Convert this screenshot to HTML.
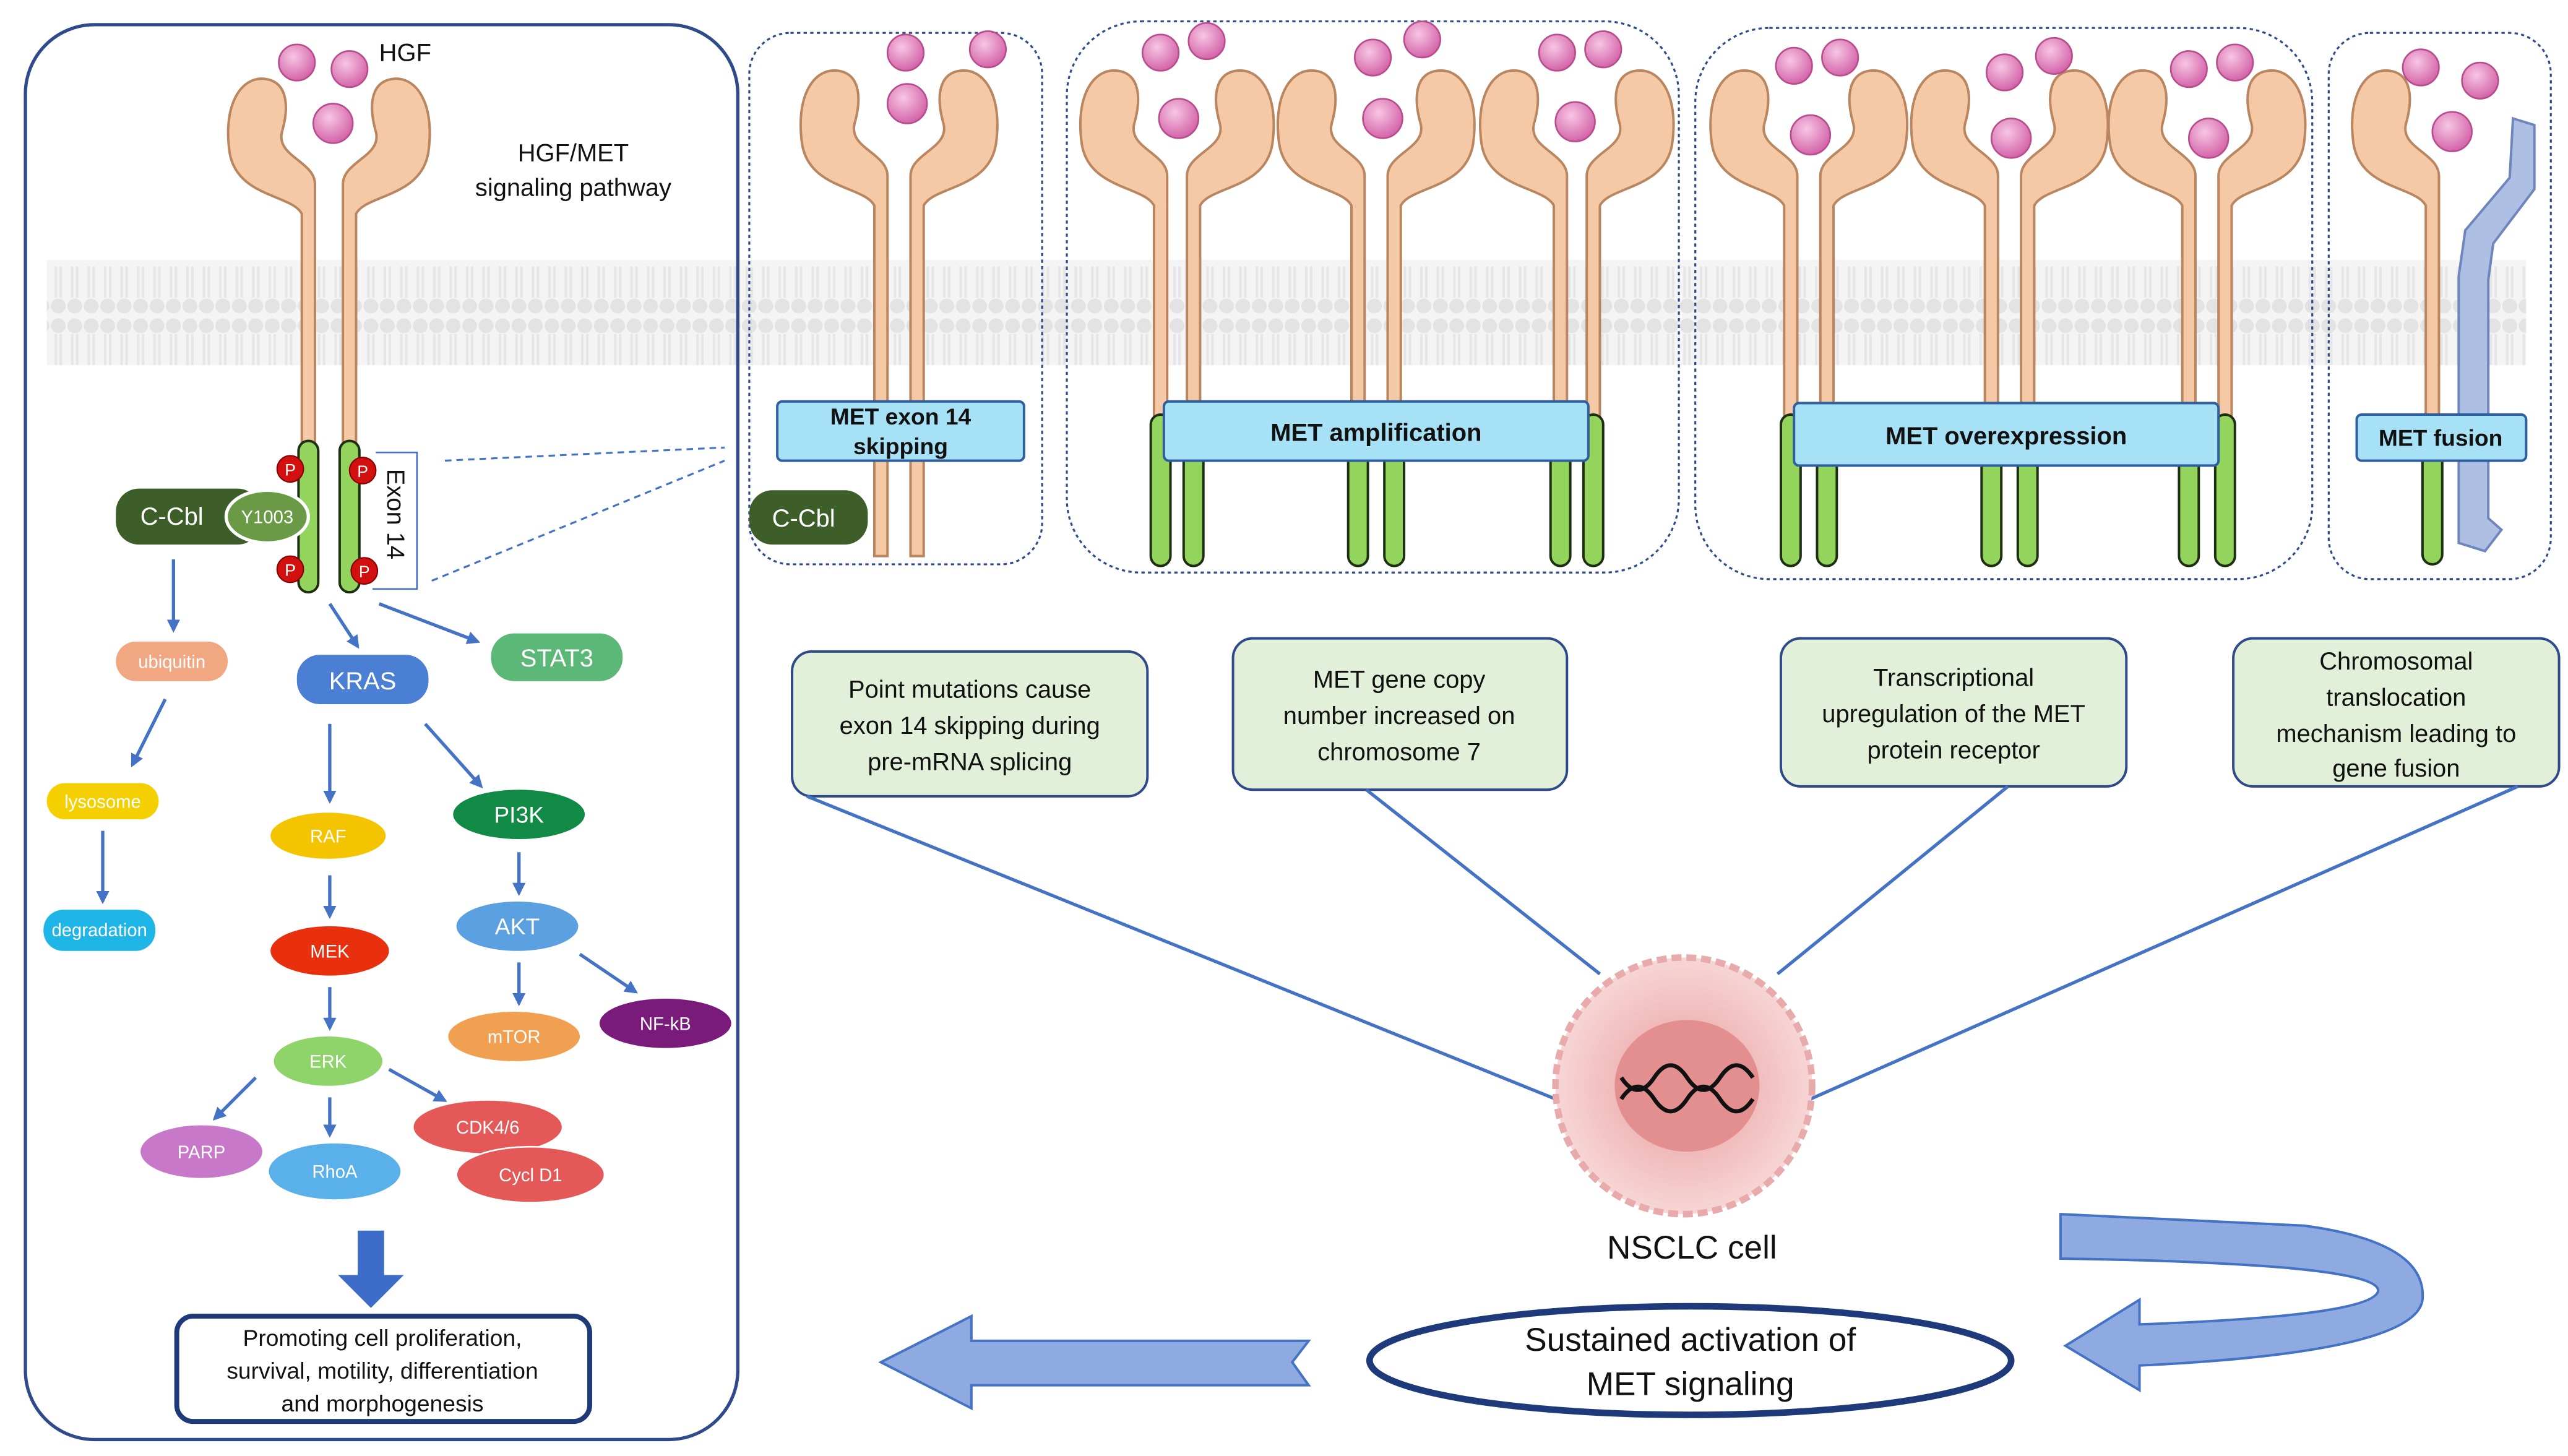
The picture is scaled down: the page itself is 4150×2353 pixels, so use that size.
<!DOCTYPE html>
<html><head><meta charset="utf-8"><style>html,body{margin:0;padding:0;background:#fff}svg{display:block}</style></head>
<body>
<svg width="4150" height="2353" viewBox="0 0 1560 885" xmlns="http://www.w3.org/2000/svg" font-family="Liberation Sans, sans-serif">
<defs>
<marker id="ah" viewBox="0 0 10 10" refX="8" refY="5" markerWidth="4" markerHeight="4" orient="auto"><path d="M0,0L10,5L0,10z" fill="#4472c4"/></marker>
<radialGradient id="pk" cx="40%" cy="35%" r="65%"><stop offset="0" stop-color="#f7c6e4"/><stop offset="1" stop-color="#d465aa"/></radialGradient>
<radialGradient id="cell" cx="50%" cy="50%" r="55%"><stop offset="0" stop-color="#e89a9a"/><stop offset="0.45" stop-color="#f0b8b8"/><stop offset="1" stop-color="#f8dcdc"/></radialGradient>
<pattern id="mem" width="10" height="64" patternUnits="userSpaceOnUse"><rect width="10" height="64" fill="#f4f4f4"/><circle cx="5" cy="6" r="4.5" fill="#e3e3e3"/><circle cx="5" cy="58" r="4.5" fill="#e3e3e3"/><line x1="3.5" y1="11" x2="3.5" y2="30" stroke="#e6e6e6" stroke-width="1.5"/><line x1="6.5" y1="11" x2="6.5" y2="30" stroke="#e6e6e6" stroke-width="1.5"/><line x1="3.5" y1="34" x2="3.5" y2="53" stroke="#e6e6e6" stroke-width="1.5"/><line x1="6.5" y1="34" x2="6.5" y2="53" stroke="#e6e6e6" stroke-width="1.5"/></pattern>
<g id="mono"><path d="M-4,343 L-4,130 C-10,118 -44,120 -48,92 C-52,62 -40,46 -26,48 C-12,50 -12,66 -16,80 C-20,95 4,98 4,112 L4,343 Z" fill="#f6c9a6" stroke="#b98660" stroke-width="1.5"/></g>
<g id="grn"><rect x="-6" y="0" width="12" height="92" rx="6" fill="#92d45c" stroke="#1e2e12" stroke-width="1.5"/></g>
</defs>
<rect width="1560" height="885" fill="#fff"/>
<rect x="28" y="158" width="1507" height="64" fill="url(#mem)"/>
<rect x="15" y="15" width="433" height="860" rx="42" fill="none" stroke="#2f4a8a" stroke-width="2"/>
<g fill="none" stroke="#2f4a8a" stroke-width="1.2" stroke-dasharray="2,2">
<rect x="455" y="20" width="178" height="323" rx="25"/>
<rect x="648" y="13" width="372" height="335" rx="45"/>
<rect x="1030" y="17" width="375" height="335" rx="45"/>
<rect x="1415" y="20" width="135" height="332" rx="25"/>
</g>
<g>
<use href="#mono" transform="translate(187,0)"/>
<use href="#mono" transform="translate(212,0) scale(-1,1)"/>
<use href="#grn" transform="translate(187,268)"/><use href="#grn" transform="translate(212,268)"/>
</g>
<g>
<use href="#mono" transform="translate(535,-5) scale(1,1)"/><use href="#mono" transform="translate(557,-5) scale(-1,1)"/>
<use href="#mono" transform="translate(705,-5)"/><use href="#mono" transform="translate(725,-5) scale(-1,1)"/>
<use href="#mono" transform="translate(825,-5)"/><use href="#mono" transform="translate(847,-5) scale(-1,1)"/>
<use href="#mono" transform="translate(948,-5)"/><use href="#mono" transform="translate(968,-5) scale(-1,1)"/>
<use href="#mono" transform="translate(1088,-5)"/><use href="#mono" transform="translate(1110,-5) scale(-1,1)"/>
<use href="#mono" transform="translate(1210,-5)"/><use href="#mono" transform="translate(1232,-5) scale(-1,1)"/>
<use href="#mono" transform="translate(1330,-5)"/><use href="#mono" transform="translate(1352,-5) scale(-1,1)"/>
<use href="#mono" transform="translate(1478,-5)"/>
<use href="#grn" transform="translate(705,252)"/><use href="#grn" transform="translate(725,252)"/>
<use href="#grn" transform="translate(825,252)"/><use href="#grn" transform="translate(847,252)"/>
<use href="#grn" transform="translate(948,252)"/><use href="#grn" transform="translate(968,252)"/>
<use href="#grn" transform="translate(1088,252)"/><use href="#grn" transform="translate(1110,252)"/>
<use href="#grn" transform="translate(1210,252)"/><use href="#grn" transform="translate(1232,252)"/>
<use href="#grn" transform="translate(1330,252)"/><use href="#grn" transform="translate(1352,252)"/>
<rect x="1472" y="275" width="12" height="68" rx="6" fill="#92d45c" stroke="#1e2e12" stroke-width="1.5"/>
<path d="M1527,72 L1540,76 L1540,115 L1515,148 L1512,170 L1512,315 L1520,322 L1510,335 L1494,330 L1494,168 L1498,140 L1525,108 Z" fill="#aebfe4" stroke="#6f86bd" stroke-width="1.5"/>
</g>
<g fill="url(#pk)" stroke="#b84c8c" stroke-width="1">
<circle cx="180" cy="38" r="11"/><circle cx="212" cy="42" r="11"/><circle cx="202" cy="75" r="12"/>
<circle cx="550" cy="32" r="11"/><circle cx="600" cy="30" r="11"/><circle cx="551" cy="63" r="12"/>
<circle cx="705" cy="32" r="11"/><circle cx="733" cy="25" r="11"/><circle cx="716" cy="72" r="12"/>
<circle cx="834" cy="35" r="11"/><circle cx="864" cy="24" r="11"/><circle cx="840" cy="72" r="12"/>
<circle cx="946" cy="32" r="11"/><circle cx="974" cy="30" r="11"/><circle cx="957" cy="74" r="12"/>
<circle cx="1090" cy="40" r="11"/><circle cx="1118" cy="35" r="11"/><circle cx="1100" cy="82" r="12"/>
<circle cx="1218" cy="44" r="11"/><circle cx="1248" cy="34" r="11"/><circle cx="1222" cy="84" r="12"/>
<circle cx="1330" cy="42" r="11"/><circle cx="1358" cy="38" r="11"/><circle cx="1342" cy="84" r="12"/>
<circle cx="1471" cy="41" r="11"/><circle cx="1507" cy="49" r="11"/><circle cx="1490" cy="80" r="12"/>
</g>
<text x="230" y="37" font-size="15" fill="#111">HGF</text>
<text x="348" y="98" font-size="15" text-anchor="middle" fill="#111">HGF/MET</text>
<text x="348" y="119" font-size="15" text-anchor="middle" fill="#111">signaling pathway</text>
<rect x="70" y="297" width="88" height="34" rx="14" fill="#3d5e29"/>
<text x="104" y="319" font-size="15" fill="#fff" text-anchor="middle">C-Cbl</text>
<ellipse cx="162" cy="314" rx="25" ry="16" fill="#6b9a47" stroke="#fff" stroke-width="2"/>
<text x="162" y="318" font-size="11" fill="#fff" text-anchor="middle">Y1003</text>
<g fill="#d21010" stroke="#8a0000" stroke-width="0.8"><circle cx="176" cy="285" r="8"/><circle cx="220" cy="286" r="8"/><circle cx="176" cy="346" r="8"/><circle cx="221" cy="347" r="8"/></g>
<g font-size="10" fill="#fff" text-anchor="middle"><text x="176" y="289">P</text><text x="220" y="290">P</text><text x="176" y="350">P</text><text x="221" y="351">P</text></g>
<path d="M228,275 L253,275 L253,358 L226,358" fill="none" stroke="#4472c4" stroke-width="1"/>
<text transform="translate(235,285) rotate(90)" font-size="15" fill="#111">Exon 14</text>
<g stroke="#4472c4" stroke-width="1.2" stroke-dasharray="4,3"><line x1="270" y1="280" x2="440" y2="272"/><line x1="262" y1="353" x2="440" y2="280"/></g>
<g stroke="#4472c4" stroke-width="2" marker-end="url(#ah)">
<line x1="105" y1="340" x2="105" y2="383"/><line x1="100" y1="425" x2="80" y2="465"/><line x1="62" y1="505" x2="62" y2="548"/>
<line x1="200" y1="367" x2="217" y2="393"/><line x1="230" y1="367" x2="290" y2="390"/>
<line x1="200" y1="440" x2="200" y2="487"/><line x1="258" y1="440" x2="292" y2="478"/>
<line x1="200" y1="532" x2="200" y2="557"/><line x1="315" y1="518" x2="315" y2="543"/>
<line x1="200" y1="600" x2="200" y2="625"/><line x1="315" y1="585" x2="315" y2="610"/>
<line x1="352" y1="580" x2="386" y2="603"/><line x1="155" y1="655" x2="130" y2="680"/>
<line x1="200" y1="667" x2="200" y2="690"/><line x1="236" y1="650" x2="270" y2="669"/>
</g>
<g font-size="11" fill="#fff" text-anchor="middle">
<rect x="70" y="390" width="68" height="24" rx="12" fill="#f2a783"/><text x="104" y="406">ubiquitin</text>
<rect x="180" y="398" width="80" height="30" rx="14" fill="#4a7fd4"/><text x="220" y="419" font-size="15">KRAS</text>
<rect x="298" y="385" width="80" height="29" rx="14" fill="#5cb877"/><text x="338" y="405" font-size="15">STAT3</text>
<rect x="28" y="476" width="68" height="22" rx="11" fill="#f5d000"/><text x="62" y="491">lysosome</text>
<rect x="26" y="553" width="68" height="25" rx="12" fill="#1fb5e6"/><text x="60" y="569">degradation</text>
<ellipse cx="199" cy="508" rx="35" ry="14" fill="#f5c400"/><text x="199" y="512">RAF</text>
<ellipse cx="315" cy="495" rx="40" ry="15" fill="#118a45"/><text x="315" y="500" font-size="14">PI3K</text>
<ellipse cx="200" cy="578" rx="36" ry="15" fill="#e8300e"/><text x="200" y="582">MEK</text>
<ellipse cx="314" cy="563" rx="37" ry="15" fill="#5ba0e0"/><text x="314" y="568" font-size="14">AKT</text>
<ellipse cx="404" cy="622" rx="40" ry="15" fill="#7a1a7a"/><text x="404" y="626">NF-kB</text>
<ellipse cx="312" cy="630" rx="40" ry="15" fill="#f0a050"/><text x="312" y="634">mTOR</text>
<ellipse cx="199" cy="645" rx="33" ry="15" fill="#8ed46a"/><text x="199" y="649">ERK</text>
<ellipse cx="122" cy="700" rx="37" ry="16" fill="#c878c8"/><text x="122" y="704">PARP</text>
<ellipse cx="203" cy="712" rx="40" ry="17" fill="#5ab0e8"/><text x="203" y="716">RhoA</text>
<ellipse cx="296" cy="685" rx="45" ry="16" fill="#e45858"/><text x="296" y="689">CDK4/6</text>
<ellipse cx="322" cy="714" rx="45" ry="17" fill="#e45858" stroke="#fff" stroke-width="1"/><text x="322" y="718">Cycl D1</text>
</g>
<path d="M217,748 L233,748 L233,775 L245,775 L225,795 L205,775 L217,775 Z" fill="#3d6cc8"/>
<rect x="107" y="800" width="251" height="64" rx="10" fill="#fff" stroke="#1f3a7a" stroke-width="3"/>
<g font-size="14" fill="#111" text-anchor="middle"><text x="232" y="818">Promoting cell proliferation,</text><text x="232" y="838">survival, motility, differentiation</text><text x="232" y="858">and morphogenesis</text></g>
<rect x="455" y="298" width="72" height="33" rx="14" fill="#3d5e29"/>
<text x="488" y="320" font-size="15" fill="#fff" text-anchor="middle">C-Cbl</text>
<g fill="#a6e1f6" stroke="#2f5fa0" stroke-width="1.5">
<rect x="472" y="244" width="150" height="36" rx="3"/><rect x="707" y="244" width="258" height="36" rx="3"/>
<rect x="1090" y="245" width="258" height="38" rx="3"/><rect x="1432" y="252" width="103" height="28" rx="3"/></g>
<g font-size="14" font-weight="bold" fill="#111" text-anchor="middle">
<text x="547" y="258">MET exon 14</text><text x="547" y="276">skipping</text>
<text x="836" y="268" font-size="15">MET amplification</text>
<text x="1219" y="270" font-size="15">MET overexpression</text>
<text x="1483" y="271">MET fusion</text></g>
<g fill="#e2f0d9" stroke="#2f4a8a" stroke-width="1.5">
<rect x="481" y="396" width="216" height="88" rx="12"/><rect x="749" y="388" width="203" height="92" rx="12"/>
<rect x="1082" y="388" width="210" height="90" rx="12"/><rect x="1357" y="388" width="198" height="90" rx="12"/></g>
<g font-size="15" fill="#111" text-anchor="middle">
<text x="589" y="424">Point mutations cause</text><text x="589" y="446">exon 14 skipping during</text><text x="589" y="468">pre-mRNA splicing</text>
<text x="850" y="418">MET gene copy</text><text x="850" y="440">number increased on</text><text x="850" y="462">chromosome 7</text>
<text x="1187" y="417">Transcriptional</text><text x="1187" y="439">upregulation of the MET</text><text x="1187" y="461">protein receptor</text>
<text x="1456" y="407">Chromosomal</text><text x="1456" y="429">translocation</text><text x="1456" y="451">mechanism leading to</text><text x="1456" y="472">gene fusion</text></g>
<g stroke="#4472c4" stroke-width="2"><line x1="490" y1="484" x2="945" y2="668"/><line x1="830" y1="480" x2="972" y2="592"/><line x1="1220" y1="478" x2="1080" y2="592"/><line x1="1530" y1="478" x2="1100" y2="668"/></g>
<circle cx="1023" cy="660" r="78" fill="url(#cell)" stroke="#e8aaaa" stroke-width="4" stroke-dasharray="6,3"/>
<ellipse cx="1025" cy="660" rx="44" ry="40" fill="#e48f8f"/>
<path d="M985,655 Q995,670 1005,655 T1025,655 T1045,655 T1065,655 M985,668 Q995,653 1005,668 T1025,668 T1045,668 T1065,668" fill="none" stroke="#111" stroke-width="2.5"/>
<text x="1028" y="765" font-size="20" fill="#111" text-anchor="middle">NSCLC cell</text>
<ellipse cx="1027" cy="827" rx="195" ry="33" fill="#fff" stroke="#1f3a7a" stroke-width="4"/>
<text x="1027" y="821" font-size="20" fill="#111" text-anchor="middle">Sustained activation of</text>
<text x="1027" y="848" font-size="20" fill="#111" text-anchor="middle">MET signaling</text>
<path d="M535,828 L590,800 L590,815 L795,815 L785,828 L795,842 L590,842 L590,856 Z" fill="#8eaae0" stroke="#4472c4" stroke-width="1.5"/>
<path d="M1252,738 L1400,745 Q1475,755 1472,790 Q1468,822 1300,830 L1300,845 L1255,818 L1300,790 L1300,805 Q1440,800 1445,785 Q1448,768 1252,765 Z" fill="#8eaae0" stroke="#4472c4" stroke-width="1.5"/>
</svg>
</body></html>
